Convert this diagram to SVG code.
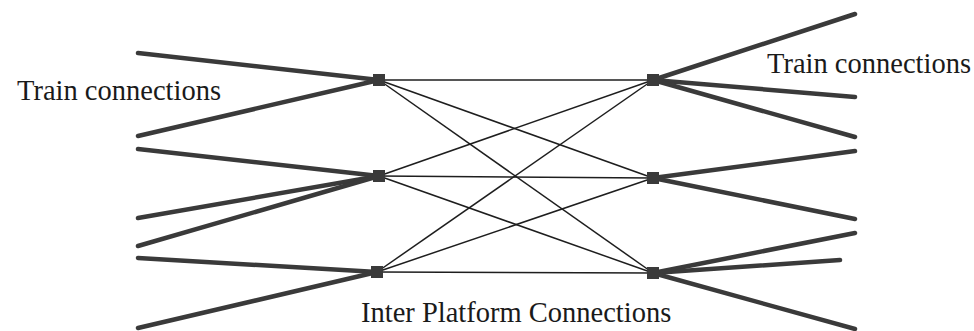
<svg xmlns="http://www.w3.org/2000/svg" width="974" height="331" viewBox="0 0 974 331">
  <style>
    .train { stroke: #3a3a3a; stroke-width: 4.5; stroke-linecap: round; fill: none; }
    .inter { stroke: #1e1e1e; stroke-width: 1.5; fill: none; }
    .platform { fill: #3a3a3a; }
    .label { font-family: "Liberation Serif", "Times New Roman", serif; font-size: 28.5px; fill: #1a1a1a; }
  </style>
  <rect width="974" height="331" fill="#ffffff"/>

  <!-- thick train connection lines -->
  <g id="train-connections">
    <line class="train" x1="138" y1="53" x2="379" y2="80"/>
    <line class="train" x1="138" y1="136" x2="379" y2="80"/>
    <line class="train" x1="138" y1="149" x2="379" y2="176"/>
    <line class="train" x1="138" y1="218" x2="379" y2="176"/>
    <line class="train" x1="138" y1="246" x2="379" y2="176"/>
    <line class="train" x1="138" y1="258" x2="377" y2="272"/>
    <line class="train" x1="138" y1="328" x2="377" y2="272"/>
    <line class="train" x1="653" y1="80" x2="855" y2="14"/>
    <line class="train" x1="653" y1="80" x2="855" y2="97"/>
    <line class="train" x1="653" y1="80" x2="855" y2="137"/>
    <line class="train" x1="653" y1="178" x2="855" y2="151"/>
    <line class="train" x1="653" y1="178" x2="855" y2="219"/>
    <line class="train" x1="653" y1="273" x2="855" y2="233"/>
    <line class="train" x1="653" y1="273" x2="840" y2="260"/>
    <line class="train" x1="653" y1="273" x2="855" y2="329"/>
  </g>

  <!-- thin inter platform connectors -->
  <g id="inter-platform-connections">
    <line class="inter" x1="379" y1="80" x2="653" y2="80"/>
    <line class="inter" x1="379" y1="80" x2="653" y2="178"/>
    <line class="inter" x1="379" y1="80" x2="653" y2="273"/>
    <line class="inter" x1="379" y1="176" x2="653" y2="80"/>
    <line class="inter" x1="379" y1="176" x2="653" y2="178"/>
    <line class="inter" x1="379" y1="176" x2="653" y2="273"/>
    <line class="inter" x1="377" y1="272" x2="653" y2="80"/>
    <line class="inter" x1="377" y1="272" x2="653" y2="178"/>
    <line class="inter" x1="377" y1="272" x2="653" y2="273"/>
  </g>

  <!-- platform nodes -->
  <g id="platform-L1"><rect class="platform" x="373" y="74" width="12" height="12"/></g>
  <g id="platform-L2"><rect class="platform" x="373" y="170" width="12" height="12"/></g>
  <g id="platform-L3"><rect class="platform" x="371" y="266" width="12" height="12"/></g>
  <g id="platform-R1"><rect class="platform" x="647" y="74" width="12" height="12"/></g>
  <g id="platform-R2"><rect class="platform" x="647" y="172" width="12" height="12"/></g>
  <g id="platform-R3"><rect class="platform" x="647" y="267" width="12" height="12"/></g>

  <!-- labels -->
  <g id="labels">
    <text class="label" x="17" y="100">Train connections</text>
    <text class="label" x="767" y="73">Train connections</text>
    <text class="label" x="361" y="322">Inter Platform Connections</text>
  </g>
</svg>
